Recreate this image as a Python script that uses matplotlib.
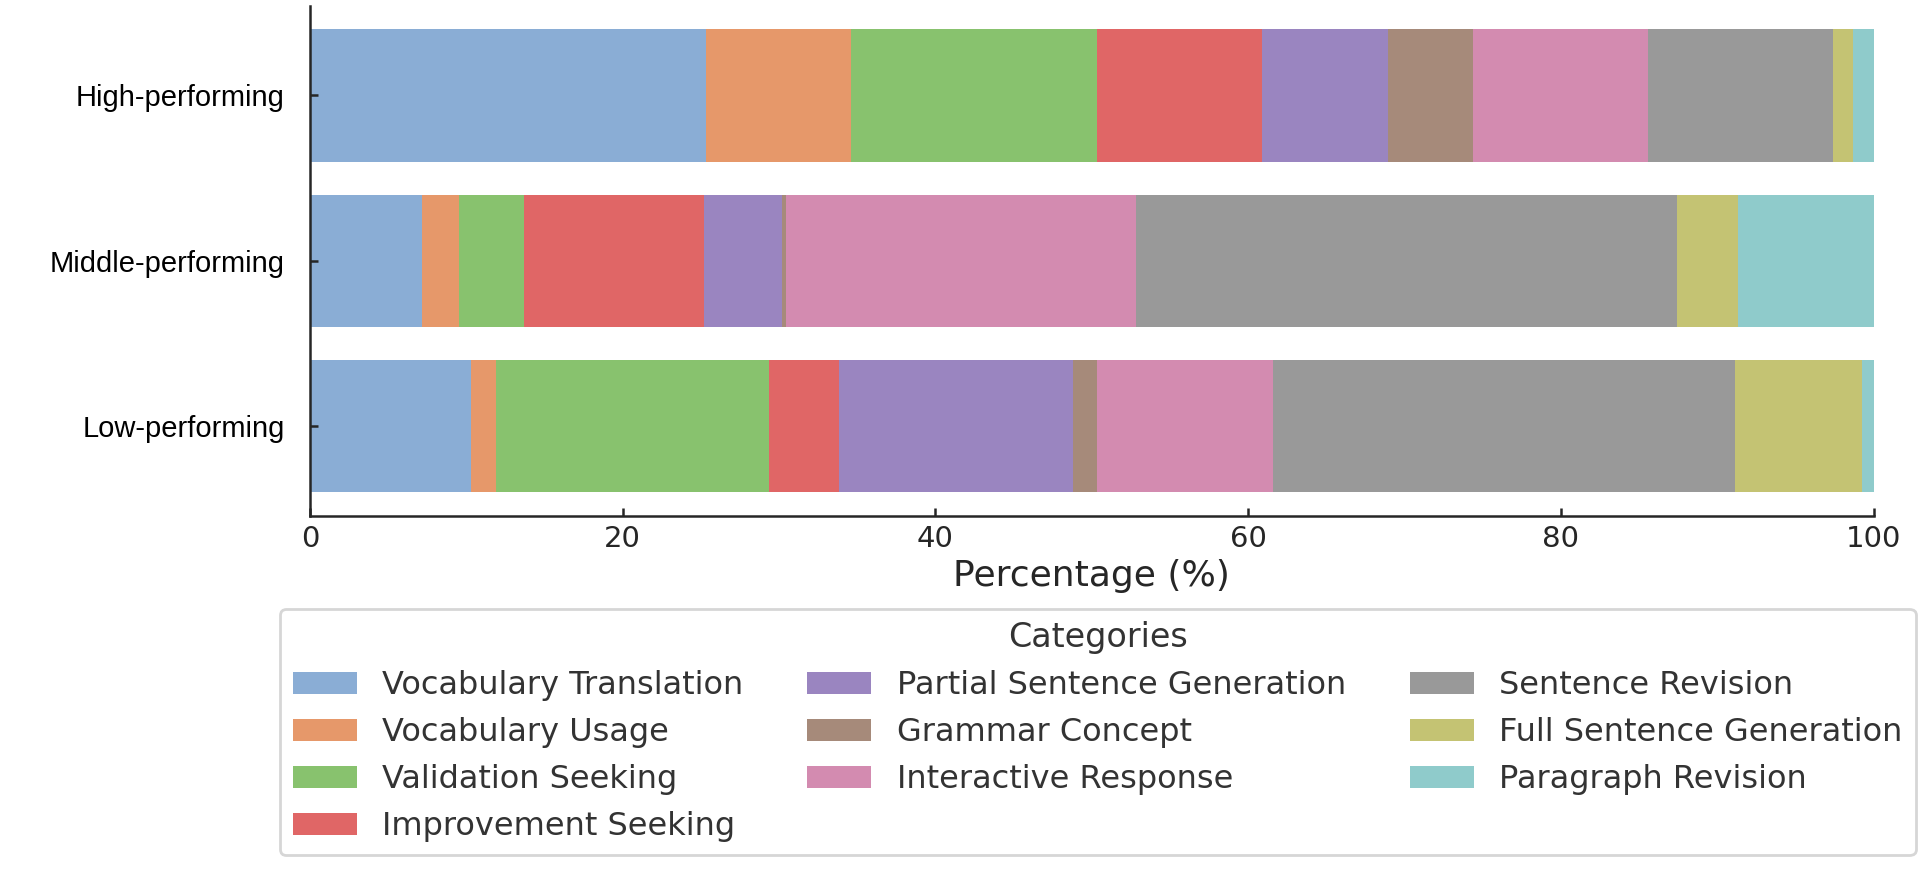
import numpy as np
import matplotlib
matplotlib.use("Agg")
import matplotlib.pyplot as plt

# groups (bottom to top in the plot)
groups = ["Low-performing", "Middle-performing", "High-performing"]

categories = [
    "Vocabulary Translation", "Vocabulary Usage", "Validation Seeking",
    "Improvement Seeking", "Partial Sentence Generation", "Grammar Concept",
    "Interactive Response", "Sentence Revision", "Full Sentence Generation",
    "Paragraph Revision",
]

# percentage per category, order: Low, Middle, High
vocab_translation = [10.30, 7.16, 25.31]
vocab_usage = [1.60, 2.39, 9.31]
validation_seeking = [17.43, 4.12, 15.70]
improvement_seeking = [4.54, 11.56, 10.57]
partial_sentence = [14.91, 4.99, 8.08]
grammar_concept = [1.59, 0.20, 5.41]
interactive_response = [11.22, 22.42, 11.20]
sentence_revision = [29.56, 34.57, 11.85]
full_sentence = [8.11, 3.91, 1.25]
paragraph_revision = [0.74, 8.68, 1.32]

series = [vocab_translation, vocab_usage, validation_seeking, improvement_seeking,
          partial_sentence, grammar_concept, interactive_response,
          sentence_revision, full_sentence, paragraph_revision]

colors = ["#8AADD5", "#E6986A", "#88C26E", "#E06666", "#9A85C0",
          "#A68A7A", "#D38BB0", "#999999", "#C4C373", "#8FCBCB"]

fig = plt.figure(figsize=(9.6, 4.36), dpi=200)
ax = fig.add_axes([0.1614, 0.4088, 0.8144, 0.5843])

y = np.arange(len(groups))
left = np.zeros(len(groups))
for name, vals, col in zip(categories, series, colors):
    ax.barh(y, vals, left=left, height=0.8, color=col, label=name, linewidth=0)
    left += np.array(vals)

ax.set_xlim(0, 100)
ax.set_xticks([0, 20, 40, 60, 80, 100])
ax.set_yticks(y)
ax.set_yticklabels(groups, fontsize=10.5, color="black", family="Liberation Sans")
ax.tick_params(axis="x", labelsize=10.5, labelcolor="#262626")
ax.tick_params(direction="in", length=3, width=0.9, color="#262626")
ax.tick_params(axis="y", pad=9)
ax.set_xlabel("Percentage (%)", fontsize=13, color="#262626", labelpad=2)

for s in ["top", "right"]:
    ax.spines[s].set_visible(False)
for s in ["left", "bottom"]:
    ax.spines[s].set_color("#262626")
    ax.spines[s].set_linewidth(0.9)

leg = fig.legend(loc="upper center", bbox_to_anchor=(0.5718, 0.302), ncol=3,
                 fontsize=11.5, title="Categories", title_fontsize=12,
                 borderaxespad=0, frameon=True)
for t in leg.get_texts():
    t.set_color("#333333")
leg.get_title().set_color("#333333")

fig.savefig("out.png", dpi=200)
